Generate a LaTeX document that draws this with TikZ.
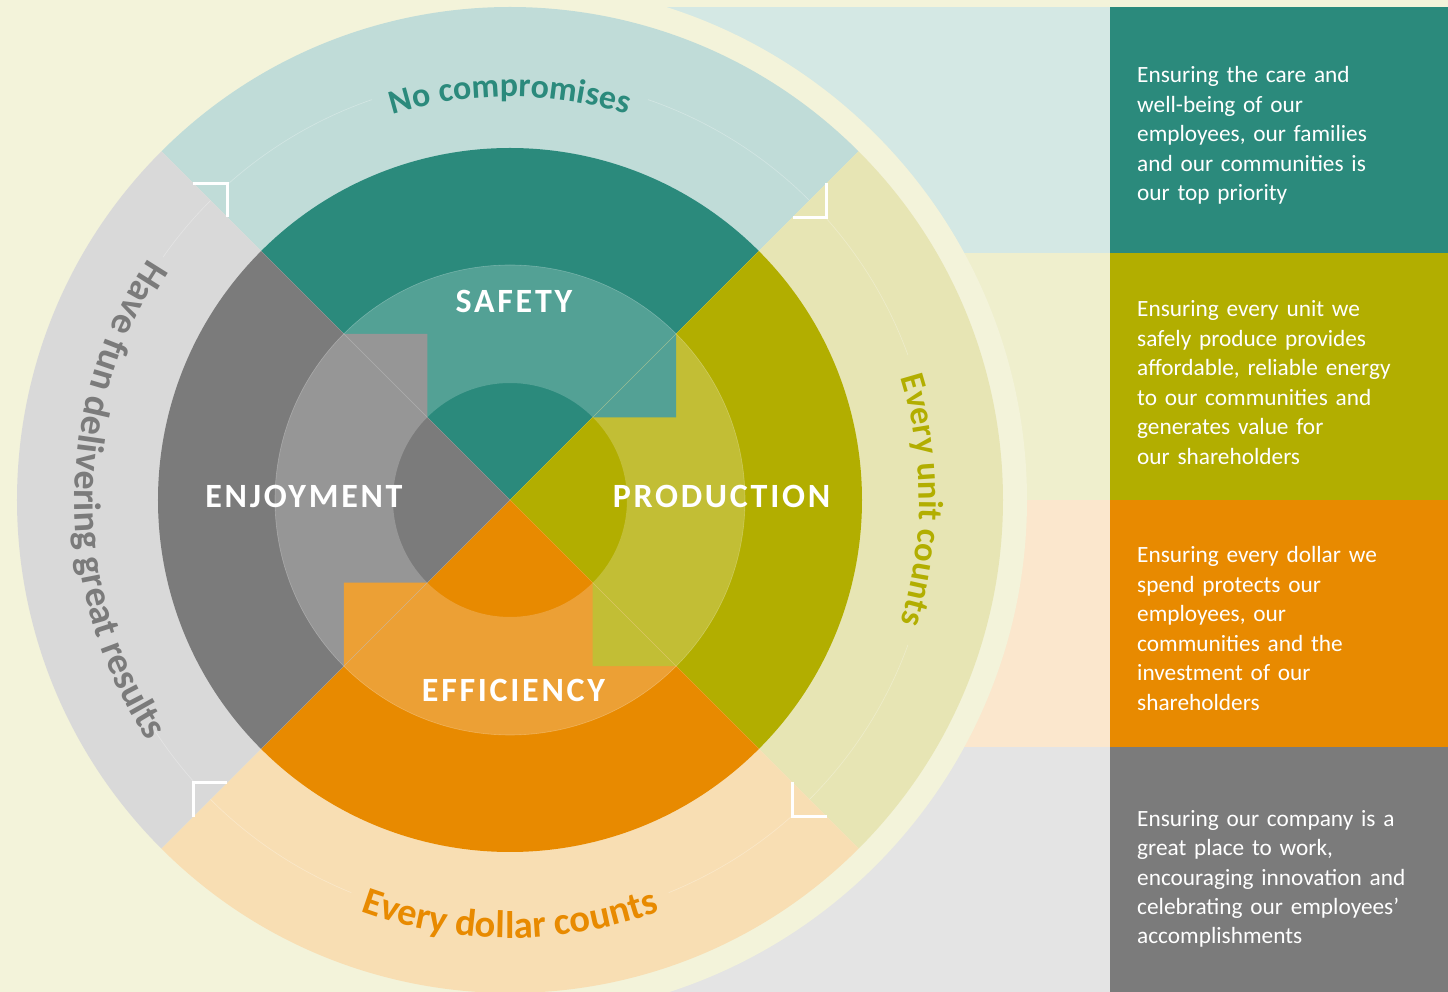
\documentclass[tikz,border=0pt]{standalone}
\usepackage{fontspec}
\setmainfont{Carlito}
\usetikzlibrary{decorations.text}

\definecolor{cream}{HTML}{F3F3DA}
\definecolor{tealD}{HTML}{2B8A7C}
\definecolor{tealM}{HTML}{53A195}
\definecolor{tealP}{HTML}{C0DCD8}
\definecolor{tealR}{HTML}{D4E8E4}
\definecolor{oliveD}{HTML}{B2AE00}
\definecolor{oliveM}{HTML}{C2BE35}
\definecolor{oliveP}{HTML}{E7E5B4}
\definecolor{oliveR}{HTML}{EFEFCD}
\definecolor{orangeD}{HTML}{E88A00}
\definecolor{orangeM}{HTML}{ECA035}
\definecolor{orangeP}{HTML}{F8DEB3}
\definecolor{orangeR}{HTML}{FBE7CD}
\definecolor{greyD}{HTML}{7B7B7B}
\definecolor{greyM}{HTML}{969696}
\definecolor{greyP}{HTML}{D9D9D9}
\definecolor{greyR}{HTML}{E4E4E4}

\newcommand\arcfont[1]{\fontsize{#1}{#1}\selectfont\bfseries}

\begin{document}
\begin{tikzpicture}[
  x=1pt, y=1pt,
  hub/.style={font=\fontsize{34}{34}\selectfont\bfseries\addfontfeature{LetterSpace=8},
              text=white, anchor=base, inner sep=0pt},
  info/.style={font=\fontsize{23.3}{29.5}\selectfont, text=white, anchor=base west,
               align=left, text width=310pt, inner sep=0pt},
  guide/.style={white, opacity=0.3, line width=0.6pt},
  seam/.style={white, opacity=0.25, line width=0.6pt},
  chev/.style={white, line width=3pt, line join=miter},
  curved/.style={decorate, decoration={text along path, text align=center, text color=#1}}
]
\useasboundingbox (-510,-492) rectangle (938,500);
\clip (-510,-492) rectangle (938,500);
\fill[cream] (-510,-492) rectangle (938,500);

% side panels
\foreach \lo/\hi/\cr/\cd in {247/493/tealR/tealD, 0/247/oliveR/oliveD,
                             -247/0/orangeR/orangeD, -492/-247/greyR/greyD} {
  \fill[\cr] (0,\lo) rectangle (600,\hi);
  \fill[\cd] (600,\lo) rectangle (938,\hi);
}
\fill[cream] (0,0) circle (517);

% rings
\foreach \a/\cd/\cm/\cp in {90/tealD/tealM/tealP, 0/oliveD/oliveM/oliveP,
                            270/orangeD/orangeM/orangeP, 180/greyD/greyM/greyP} {
  \fill[\cp] (0,0) -- (\a-45:493) arc[start angle=\a-45, end angle=\a+45, radius=493] -- cycle;
  \fill[\cd] (0,0) -- (\a-45:352) arc[start angle=\a-45, end angle=\a+45, radius=352] -- cycle;
  \fill[\cm] (\a-45:117) -- (\a-45:235) arc[start angle=\a-45, end angle=\a+45, radius=235]
    -- (\a+45:117) arc[start angle=\a+45, end angle=\a-45, radius=117] -- cycle;
}
\foreach \a/\cm in {90/tealM, 0/oliveM, 270/orangeM, 180/greyM}
  \fill[\cm, rotate=\a-90] (45:117) -- (45:235) -- (166.2,82.7) -- cycle;
\draw[seam] (0,0) circle (235);
\foreach \a in {45,135,225,315}
  \draw[seam] (\a:117) -- (\a:235);

% guide arcs and chevrons
\foreach \s/\e in {109/131.75, 45/71, 20/41.75, -45/-20,
                   292/311.75, 225/248, 213/221.75, 135/145}
  \draw[guide] (\s:423.5) arc[start angle=\s, end angle=\e, radius=423.5];
\foreach \a in {0,90,180,270}
  \draw[chev, rotate=\a] (282.5,282.5) -- (316.5,282.5) -- (316.5,316.5);

% curved captions
\path[curved=tealD, decoration={text={|\arcfont{34}|No compromises}}]
  (160:403) arc[start angle=160, end angle=20, radius=403];
\path[curved=oliveD, decoration={text={|\arcfont{34.5}|Every unit counts}}]
  (60:409) arc[start angle=60, end angle=-60, radius=409];
\path[curved=orangeD, decoration={text={|\arcfont{38.5}|Every dollar counts}}]
  (200:438) arc[start angle=200, end angle=340, radius=438];
\path[curved=greyD, decoration={text={|\arcfont{38}|Have fun delivering great results}}]
  (110:435) arc[start angle=110, end angle=250, radius=435];

% hub labels
\node[hub] (safety) at (4,187) {SAFETY};
\node[hub] (production) at (211.5,-8) {PRODUCTION};
\node[hub] (efficiency) at (3.5,-202) {EFFICIENCY};
\node[hub] (enjoyment) at (-206,-8) {ENJOYMENT};

% panel texts
\node[info] (txtsafety) at (627,417)
  {Ensuring the care and\\well-being of our\\employees, our families\\and our communities is\\our top priority};
\node[info] (txtproduction) at (627,183)
  {Ensuring every unit we\\safely produce provides\\affordable, reliable energy\\to our communities and\\generates value for\\our shareholders};
\node[info] (txtefficiency) at (627,-63)
  {Ensuring every dollar we\\spend protects our\\employees, our\\communities and the\\investment of our\\shareholders};
\node[info] (txtenjoyment) at (627,-326)
  {Ensuring our company is a\\great place to work,\\encouraging innovation and\\celebrating our employees’\\accomplishments};
\end{tikzpicture}
\end{document}
